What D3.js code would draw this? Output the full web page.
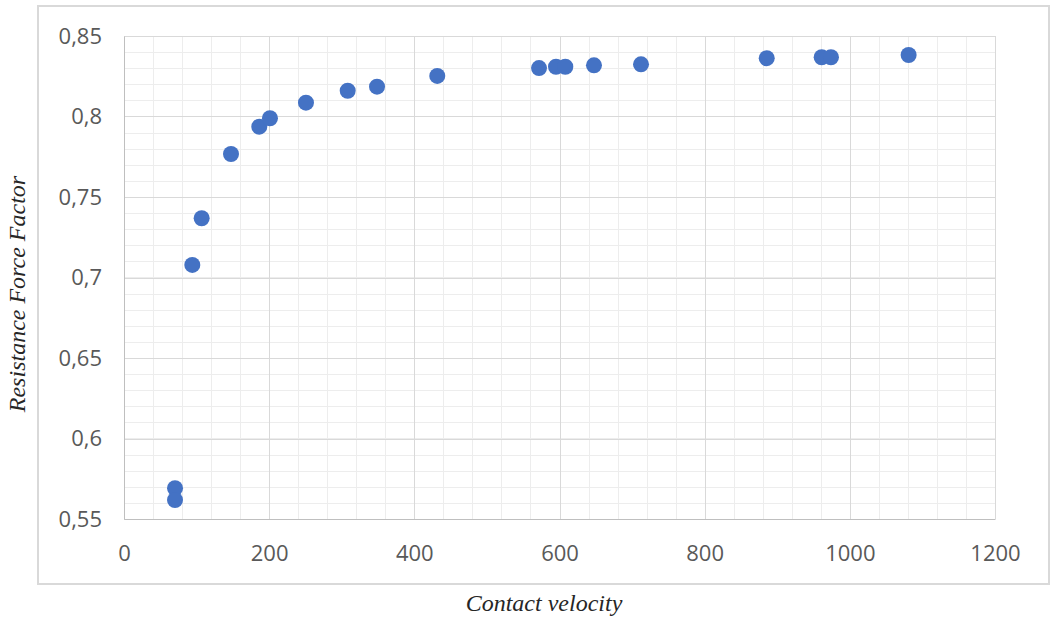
<!DOCTYPE html>
<html>
<head>
<meta charset="utf-8">
<script src="https://cdn.jsdelivr.net/npm/d3@7"></script>
<style>
  html, body { margin: 0; padding: 0; background: #ffffff; }
</style>
</head>
<body>
<div id="chart"></div>
<script>
// Resistance force factor against contact velocity, Excel-style scatter.
const velocity = [70.3, 70.3, 94.1, 107, 147.4, 186.4, 201.1, 250.7, 308.2, 348.6,
    431.6, 571.8, 595.2, 608, 647.5, 712.3, 885.5, 961.2, 974, 1081];
const forceFactor = [0.5691, 0.5618, 0.7078, 0.7368, 0.7767, 0.7937, 0.7989, 0.8086, 0.816, 0.8185,
    0.8252, 0.8301, 0.8309, 0.8309, 0.8318, 0.8324, 0.8362, 0.8368, 0.8368, 0.8382];
const xTicks = [0, 200, 400, 600, 800, 1000, 1200];
const yTicks = [0.55, 0.6, 0.65, 0.7, 0.75, 0.8, 0.85];

const WIDTH = 1052;
const HEIGHT = 620;
const plot = { left: 124, top: 36, right: 995, bottom: 519 };

const points = velocity.map((v, i) => ({ x: v, y: forceFactor[i] }));

const svg = d3.select("#chart")
    .append("svg")
    .attr("width", WIDTH)
    .attr("height", HEIGHT);

// Outer chart frame
svg.append("rect")
    .attr("x", 38)
    .attr("y", 6)
    .attr("width", 1011)
    .attr("height", 578)
    .attr("fill", "#ffffff")
    .attr("stroke", "#d9d9d9")
    .attr("stroke-width", 2);

const x = d3.scaleLinear().domain([0, 1200]).range([plot.left, plot.right]);
const y = d3.scaleLinear().domain([0.55, 0.85]).range([plot.bottom, plot.top]);

// Minor grid every 40 on x and 0.01 on y
const xMinor = d3.range(0, 1200.001, 40);
const yMinor = d3.range(0, 31).map(i => 0.55 + i * 0.01);

const grid = svg.append("g");

grid.selectAll(".xminor")
    .data(xMinor)
    .join("line")
    .attr("x1", d => Math.round(x(d)) + 0.5)
    .attr("x2", d => Math.round(x(d)) + 0.5)
    .attr("y1", plot.top)
    .attr("y2", plot.bottom)
    .attr("stroke", "#ededed");

grid.selectAll(".yminor")
    .data(yMinor)
    .join("line")
    .attr("x1", plot.left)
    .attr("x2", plot.right)
    .attr("y1", d => Math.round(y(d)) + 0.5)
    .attr("y2", d => Math.round(y(d)) + 0.5)
    .attr("stroke", "#ededed");

// Major grid
grid.selectAll(".xmajor")
    .data(xTicks)
    .join("line")
    .attr("x1", d => Math.round(x(d)) + 0.5)
    .attr("x2", d => Math.round(x(d)) + 0.5)
    .attr("y1", plot.top)
    .attr("y2", plot.bottom)
    .attr("stroke", "#d9d9d9");

grid.selectAll(".ymajor")
    .data(yTicks)
    .join("line")
    .attr("x1", plot.left)
    .attr("x2", plot.right)
    .attr("y1", d => Math.round(y(d)) + 0.5)
    .attr("y2", d => Math.round(y(d)) + 0.5)
    .attr("stroke", "#d9d9d9");

// Axes: labels only, lines drawn by the grid
const fmtY = d => String(+d.toFixed(2)).replace(".", ",");

const xAxis = svg.append("g")
    .attr("transform", `translate(0, ${plot.bottom})`)
    .call(d3.axisBottom(x).tickValues(xTicks).tickSize(0).tickPadding(26).tickFormat(d3.format("d")));

const yAxis = svg.append("g")
    .attr("transform", `translate(${plot.left}, 0)`)
    .call(d3.axisLeft(y).tickValues(yTicks).tickSize(0).tickPadding(22).tickFormat(fmtY));

[xAxis, yAxis].forEach(axis => {
    axis.select(".domain").attr("stroke", "#bfbfbf");
    axis.selectAll("text")
        .style("font-family", "'Open Sans', sans-serif")
        .style("font-size", "22px")
        .attr("fill", "#595959");
});

// Scatter points
svg.append("g")
    .selectAll("circle")
    .data(points)
    .join("circle")
    .attr("cx", d => x(d.x))
    .attr("cy", d => y(d.y))
    .attr("r", 8)
    .attr("fill", "#4472c4");

// Axis titles
svg.append("text")
    .attr("x", 544)
    .attr("y", 611)
    .attr("text-anchor", "middle")
    .style("font-family", "'Liberation Serif', serif")
    .style("font-style", "italic")
    .style("font-size", "24px")
    .attr("fill", "#262626")
    .text("Contact velocity");

svg.append("text")
    .attr("transform", "translate(25, 294) rotate(-90)")
    .attr("text-anchor", "middle")
    .style("font-family", "'Liberation Serif', serif")
    .style("font-style", "italic")
    .style("font-size", "24px")
    .attr("fill", "#262626")
    .text("Resistance Force Factor");
</script>
</body>
</html>
